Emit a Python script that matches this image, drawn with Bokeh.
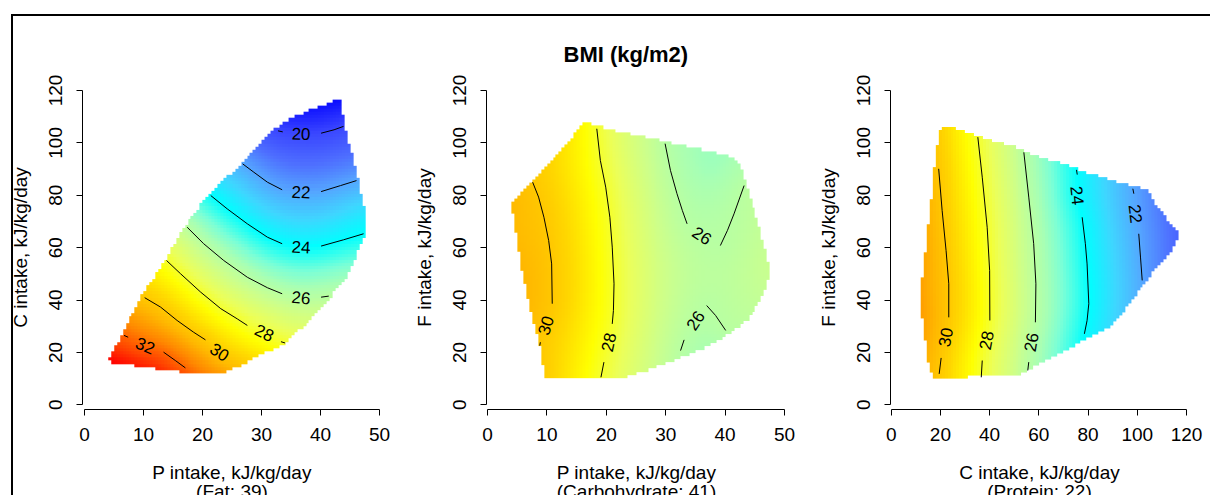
import math
import numpy as np
from bokeh.plotting import figure
from bokeh.models import Range1d, FixedTicker, ColumnDataSource
from bokeh.layouts import row
from bokeh.embed import file_html
from bokeh.resources import INLINE
from bokeh.core.properties import value

TITLE = "BMI (kg/m2)"

# ---------------- Panel 1: P vs C (Fat fixed at 39) ----------------
P1_XLABEL = "P intake, kJ/kg/day\n(Fat: 39)"
P1_YLABEL = "C intake, kJ/kg/day"
P1_XTICKS = [0, 10, 20, 30, 40, 50]
P1_YTICKS = [0, 20, 40, 60, 80, 100, 120]
P1_HULL_X = [3.8, 8.4, 18.0, 23.3, 25.9, 33.8, 40.0, 44.5, 47.6, 47.6, 45.6, 43.9,
             43.4, 38.9, 33.8, 31.5, 27.0, 21.6, 16.3, 12.3, 9.5, 6.7]
P1_HULL_Y = [16.5, 15.0, 12.0, 12.0, 14.4, 23.3, 36.0, 49.3, 65.3, 72.2, 92.6, 107.0,
             116.8, 113.0, 108.0, 104.0, 92.6, 81.8, 65.9, 50.0, 41.0, 28.4]
P1_CONTOURS = [
    (20, [32.8, 33.6], [104.6, 104.2]),
    (20, [40.1, 42.3, 43.9], [103.7, 105.0, 106.3]),
    (22, [26.8, 28.7, 31.0, 33.5], [92.0, 88.8, 85.0, 82.1]),
    (22, [40.1, 43.4, 46.1], [81.4, 83.7, 85.6]),
    (24, [21.4, 24.2, 27.6, 31.0, 33.5], [79.9, 74.8, 69.1, 64.0, 61.5]),
    (24, [40.1, 43.9, 47.3], [60.6, 63.0, 65.3]),
    (26, [17.4, 20.2, 23.6, 27.6, 31.0, 33.5], [67.8, 61.5, 55.1, 48.7, 44.7, 42.4]),
    (26, [40.1, 41.4], [41.1, 41.5]),
    (28, [13.9, 16.3, 19.7, 23.1, 25.9, 27.6], [55.1, 50.0, 43.0, 36.7, 32.8, 30.3]),
    (28, [33.3, 34.0], [24.1, 23.6]),
    (30, [10.2, 12.9, 15.7, 18.5, 20.5], [40.9, 37.3, 32.2, 27.7, 24.8]),
    (32, [6.7, 7.4], [26.5, 25.8]),
    (32, [13.4, 15.4, 17.1], [20.1, 16.9, 14.1]),
]
P1_LABELS = [(20, 36.7, 103.5), (22, 36.7, 81.2), (24, 36.7, 60.2), (26, 36.7, 40.9),
             (28, 30.5, 27.5), (30, 22.9, 20.1), (32, 10.3, 22.6)]
P1_ANCHORS = [(43.2, 115.0, 19.3), (4.5, 17.0, 33.2), (24.0, 13.0, 30.8),
              (44.0, 50.0, 25.3), (47.3, 72.0, 23.5)]

# ---------------- Panel 2: P vs F (Carbohydrate fixed at 41) ----------------
P2_XLABEL = "P intake, kJ/kg/day\n(Carbohydrate: 41)"
P2_YLABEL = "F intake, kJ/kg/day"
P2_XTICKS = [0, 10, 20, 30, 40, 50]
P2_YTICKS = [0, 20, 40, 60, 80, 100, 120]
P2_HULL_X = [3.9, 7.8, 12.3, 15.9, 16.7, 18.7, 23.5, 28.6, 33.6, 40.4, 42.3, 45.4,
             47.1, 47.6, 46.3, 43.7, 38.1, 30.2, 22.9, 9.5, 8.9, 7.2, 5.6, 4.4]
P2_HULL_Y = [76.7, 85.6, 96.4, 106.6, 107.3, 106.0, 103.4, 100.9, 98.3, 95.2, 92.0, 70.3,
             56.3, 50.0, 41.0, 32.2, 23.3, 15.6, 10.5, 9.9, 20.7, 36.0, 52.5, 70.3]
P2_CONTOURS = [
    (30, [7.6, 8.6, 9.5, 10.3, 10.8, 10.9], [85.0, 79.3, 71.6, 62.7, 53.8, 38.6]),
    (30, [8.9, 8.8], [23.9, 22.6]),
    (28, [18.4, 19.0, 19.9, 20.6, 21.0, 21.3, 21.2, 21.0],
         [105.4, 93.3, 83.1, 71.6, 60.2, 46.2, 36.0, 30.9]),
    (28, [19.6, 19.1], [16.3, 10.5]),
    (26, [29.9, 30.8, 31.9, 32.8, 33.6], [99.7, 89.5, 80.6, 74.2, 69.1]),
    (26, [39.2, 40.4, 41.5, 43.2], [60.8, 66.6, 72.9, 83.7]),
    (26, [32.5, 33.1], [20.7, 24.8]),
    (26, [36.9, 38.4, 40.1], [37.9, 34.1, 28.4]),
]
P2_LABELS = [(30, 9.8, 30.3), (28, 20.4, 23.9), (26, 36.1, 64.6), (26, 35.0, 32.2)]
P2_ANCHORS = [(4.5, 76.0, 30.4), (5.0, 65.0, 30.4), (7.5, 40.0, 30.4), (38.0, 90.0, 25.5),
              (36.5, 22.0, 25.7), (47.0, 52.0, 26.4), (37.0, 48.0, 26.1), (10.0, 12.0, 29.8),
              (16.5, 105.0, 28.5)]

# ---------------- Panel 3: C vs F (Protein fixed at 22) ----------------
P3_XLABEL = "C intake, kJ/kg/day\n(Protein: 22)"
P3_YLABEL = "F intake, kJ/kg/day"
P3_XTICKS = [0, 20, 40, 60, 80, 100, 120]
P3_YTICKS = [0, 20, 40, 60, 80, 100, 120]
P3_HULL_X = [20.0, 24.8, 28.2, 40.3, 49.8, 60.7, 76.9, 91.8, 104.0, 108.1, 116.9, 114.8,
             108.1, 98.6, 90.5, 78.2, 66.1, 52.5, 29.5, 16.7, 15.3, 12.6, 12.6, 16.0, 18.0]
P3_HULL_Y = [106.0, 106.0, 104.7, 100.9, 98.3, 94.5, 89.4, 85.0, 81.8, 75.4, 64.6, 60.2,
             52.5, 41.1, 30.9, 24.5, 18.2, 11.8, 10.5, 10.5, 14.4, 33.4, 48.1, 76.7, 95.8]
P3_CONTOURS = [
    (30, [19.3, 20.7, 22.3, 23.4, 23.4], [90.1, 74.2, 58.9, 46.2, 33.4]),
    (30, [20.3, 19.5], [17.9, 11.8]),
    (28, [35.2, 37.0, 39.0, 40.0, 40.1], [102.2, 86.9, 67.8, 51.3, 32.2]),
    (28, [37.0, 36.6], [16.9, 10.5]),
    (26, [53.9, 55.9, 57.9, 58.8, 58.6], [96.4, 79.3, 61.5, 46.2, 31.5]),
    (26, [55.9, 55.5], [16.3, 13.1]),
    (24, [75.3, 75.6], [89.7, 87.9]),
    (24, [77.6, 78.9, 79.6, 80.3, 79.6, 78.5], [71.6, 61.5, 53.8, 38.6, 32.2, 27.1]),
    (22, [98.2, 98.6], [82.5, 80.6]),
    (22, [100.6, 101.3, 102.0], [65.3, 56.4, 47.5]),
]
P3_LABELS = [(30, 22.1, 25.8), (28, 38.7, 24.6), (26, 56.9, 23.9), (24, 75.6, 79.9),
             (22, 99.3, 72.9)]
P3_ANCHORS = [(13.0, 45.0, 30.9), (116.0, 64.0, 20.8), (105.0, 80.0, 21.5),
              (104.0, 48.0, 21.8)]

# ---------------- colour scale (BMI -> colour) ----------------
PAL_V = [19.0, 20.0, 21.0, 22.0, 23.0, 24.0, 25.0, 25.6, 26.5, 27.5, 28.5, 29.5, 30.5, 31.5, 32.5, 33.3]
PAL_C = ["#0000FF", "#3A46FF", "#4E6EFF", "#55A6FF", "#3FD6FF", "#00FFFF", "#7CFFD6", "#A8FFB4",
         "#CCFF8C", "#EBFF5A", "#FFFF00", "#FFD800", "#FFB800", "#FF8800", "#FF4400", "#FF0000"]

FONT = "Liberation Sans"
YR = (-1.79, 121.91)
FRAME_H = 324


def tps_surface(pts_x, pts_y, vals, gx, gy, lam=0.004):
    P = np.column_stack([pts_x, pts_y]) / 100.0
    n = len(P)

    def U(r):
        with np.errstate(divide="ignore", invalid="ignore"):
            out = r * r * np.log(r)
        out[r == 0] = 0.0
        return out

    d = np.sqrt(((P[:, None, :] - P[None, :, :]) ** 2).sum(-1))
    A = np.zeros((n + 3, n + 3))
    A[:n, :n] = U(d) + lam * np.eye(n)
    A[:n, n] = 1.0
    A[:n, n + 1:] = P
    A[n, :n] = 1.0
    A[n + 1:, :n] = P.T
    b = np.concatenate([np.asarray(vals, float), np.zeros(3)])
    sol = np.linalg.solve(A, b)
    w, a = sol[:n], sol[n:]
    G = np.column_stack([gx.ravel(), gy.ravel()]) / 100.0
    dg = np.sqrt(((G[:, None, :] - P[None, :, :]) ** 2).sum(-1))
    v = U(dg) @ w + a[0] + G @ a[1:]
    return v.reshape(gx.shape)


def inside_poly(px, py, hx, hy):
    res = np.zeros(px.shape, bool)
    n = len(hx)
    j = n - 1
    for i in range(n):
        xi, yi, xj, yj = hx[i], hy[i], hx[j], hy[j]
        cond = ((yi > py) != (yj > py)) & (px < (xj - xi) * (py - yi) / ((yj - yi) + 1e-12) + xi)
        res ^= cond
        j = i
    return res


def colours(v):
    rgb = np.array([[int(c[1:3], 16), int(c[3:5], 16), int(c[5:7], 16)] for c in PAL_C], float)
    out = np.zeros(v.shape + (3,))
    for k in range(3):
        out[..., k] = np.interp(v, PAL_V, rgb[:, k])
    return out


def label_angle(lv, lx, ly, contours, kx, ky):
    pts = []
    for lev, xs, ys in contours:
        if lev != lv:
            continue
        for i in range(len(xs)):
            pts.append((xs[i] * kx, ys[i] * ky, xs, ys, i))
    L = (lx * kx, ly * ky)

    def dist(q):
        return math.hypot(q[0] - L[0], q[1] - L[1])

    pts.sort(key=dist)
    A = pts[0]
    B = None
    for q in pts[1:]:
        if (q[0] - L[0]) * (A[0] - L[0]) + (q[1] - L[1]) * (A[1] - L[1]) < 0 and dist(q) < 80:
            B = q
            break
    if B is None:
        xs, ys, i = A[2], A[3], A[4]
        j0, j1 = max(i - 1, 0), min(i + 1, len(xs) - 1)
        dx, dy = (xs[j1] - xs[j0]) * kx, (ys[j1] - ys[j0]) * ky
    else:
        dx, dy = B[0] - A[0], B[1] - A[1]
    ang = math.atan2(dy, dx)
    while ang > math.pi / 2:
        ang -= math.pi
    while ang <= -math.pi / 2:
        ang += math.pi
    return ang


def make_panel(cfg, title=None):
    x0, x1 = cfg["xr"]
    kx = cfg["fw"] / (x1 - x0)
    ky = FRAME_H / (YR[1] - YR[0])

    kw = dict(frame_width=cfg["fw"], frame_height=FRAME_H,
              x_range=Range1d(x0, x1), y_range=Range1d(*YR),
              min_border_left=cfg["bl"], min_border_right=cfg["br"],
              min_border_top=85, min_border_bottom=60,
              output_backend="svg", toolbar_location=None, tools="")
    if title:
        kw["title"] = title
    p = figure(**kw)
    if title:
        p.title.align = "left"
        p.title.offset = 77
        p.title.text_font = FONT
        p.title.text_font_size = "22px"
        p.title.text_font_style = "bold"
        p.title.text_color = "black"
        p.title.standoff = 38
    p.outline_line_color = None
    p.xgrid.visible = False
    p.ygrid.visible = False
    p.background_fill_color = None
    p.border_fill_color = None

    # ---- surface image ----
    hx, hy = np.array(cfg["hull_x"]), np.array(cfg["hull_y"])
    dx, dy = cfg["cell"]
    gx0, gy0 = math.floor(hx.min()), math.floor(hy.min())
    nx = int(math.ceil((hx.max() - gx0) / dx)) + 1
    ny = int(math.ceil((hy.max() - gy0) / dy)) + 1
    xc = gx0 + (np.arange(nx) + 0.5) * dx
    yc = gy0 + (np.arange(ny) + 0.5) * dy
    GX, GY = np.meshgrid(xc, yc)
    mask = inside_poly(GX, GY, hx, hy)

    sx, sy, sv = [], [], []
    for lev, xs, ys in cfg["contours"]:
        for a, b in zip(xs, ys):
            sx.append(a * kx); sy.append(b * ky); sv.append(lev)
    for lev, a, b in cfg["labels"]:
        sx.append(a * kx); sy.append(b * ky); sv.append(lev)
    for a, b, v in cfg["anchors"]:
        sx.append(a * kx); sy.append(b * ky); sv.append(v)
    V = tps_surface(np.array(sx), np.array(sy), sv, GX * kx, GY * ky)
    rgb = colours(V)
    rgba = np.zeros((ny, nx, 4), np.uint8)
    rgba[..., :3] = np.clip(np.round(rgb), 0, 255).astype(np.uint8)
    rgba[..., 3] = np.where(mask, 255, 0).astype(np.uint8)
    up = 3
    rgba = np.repeat(np.repeat(rgba, up, axis=0), up, axis=1)
    rgba = np.ascontiguousarray(rgba)
    img = rgba.view(dtype=np.uint32).reshape(rgba.shape[:2])
    p.image_rgba(image=[img], x=gx0, y=gy0, dw=nx * dx, dh=ny * dy)

    # ---- contour lines ----
    p.multi_line(xs=[list(c[1]) for c in cfg["contours"]], ys=[list(c[2]) for c in cfg["contours"]],
                 line_color="black", line_width=1)

    # ---- contour labels ----
    lab = ColumnDataSource(dict(
        x=[l[1] for l in cfg["labels"]], y=[l[2] for l in cfg["labels"]],
        t=[str(l[0]) for l in cfg["labels"]],
        a=[label_angle(l[0], l[1], l[2], cfg["contours"], kx, ky) for l in cfg["labels"]]))
    p.text(x="x", y="y", text="t", angle="a", source=lab, text_align="center",
           text_baseline="middle", text_font=value(FONT), text_font_size="17px",
           text_color="black")

    # ---- axes ----
    p.xaxis.ticker = FixedTicker(ticks=cfg["xticks"])
    p.yaxis.ticker = FixedTicker(ticks=cfg["yticks"])
    p.xaxis.bounds = (cfg["xticks"][0], cfg["xticks"][-1])
    p.yaxis.bounds = (cfg["yticks"][0], cfg["yticks"][-1])
    p.xaxis.axis_label = cfg["xlabel"]
    p.yaxis.axis_label = cfg["ylabel"]
    for ax in (p.xaxis[0], p.yaxis[0]):
        ax.axis_line_color = "black"
        ax.axis_line_width = 1
        ax.major_tick_line_color = "black"
        ax.minor_tick_line_color = None
        ax.major_tick_in = 0
        ax.major_tick_out = 6
        ax.major_label_text_font = FONT
        ax.major_label_text_font_size = "19px"
        ax.major_label_text_color = "black"
        ax.axis_label_text_font = FONT
        ax.axis_label_text_font_size = "19px"
        ax.axis_label_text_font_style = "normal"
        ax.axis_label_text_color = "black"
        ax.axis_label_text_line_height = 0.95
    p.xaxis.major_label_standoff = 12
    p.xaxis.axis_label_standoff = 18
    p.yaxis.major_label_orientation = "vertical"
    p.yaxis.major_label_standoff = 14
    p.yaxis.axis_label_standoff = 16
    return p


PANELS = [
    dict(fw=299, bl=82, br=29, xr=(-0.339, 50.339), cell=(0.5, 1.2),
         hull_x=P1_HULL_X, hull_y=P1_HULL_Y, contours=P1_CONTOURS, labels=P1_LABELS,
         anchors=P1_ANCHORS, xticks=P1_XTICKS, yticks=P1_YTICKS, xlabel=P1_XLABEL, ylabel=P1_YLABEL),
    dict(fw=300, bl=76, br=28, xr=(-0.168, 50.337), cell=(0.5, 1.2),
         hull_x=P2_HULL_X, hull_y=P2_HULL_Y, contours=P2_CONTOURS, labels=P2_LABELS,
         anchors=P2_ANCHORS, xticks=P2_XTICKS, yticks=P2_YTICKS, xlabel=P2_XLABEL, ylabel=P2_YLABEL),
    dict(fw=298, bl=76, br=22, xr=(-0.28, 120.81), cell=(1.2, 1.2),
         hull_x=P3_HULL_X, hull_y=P3_HULL_Y, contours=P3_CONTOURS, labels=P3_LABELS,
         anchors=P3_ANCHORS, xticks=P3_XTICKS, yticks=P3_YTICKS, xlabel=P3_XLABEL, ylabel=P3_YLABEL),
]

figs = [make_panel(cfg, TITLE if i == 1 else None) for i, cfg in enumerate(PANELS)]

# outer frame of the whole figure (top and left edges), drawn behind the transparent canvases
layout = row(*figs, spacing=0, styles={
    "background-color": "white",
    "background-image": "linear-gradient(#000, #000), linear-gradient(#000, #000)",
    "background-size": "100% 2px, 2px 100%",
    "background-position": "11px 14px, 11px 14px",
    "background-repeat": "no-repeat",
})
open("out.html", "w").write(file_html(layout, INLINE))
